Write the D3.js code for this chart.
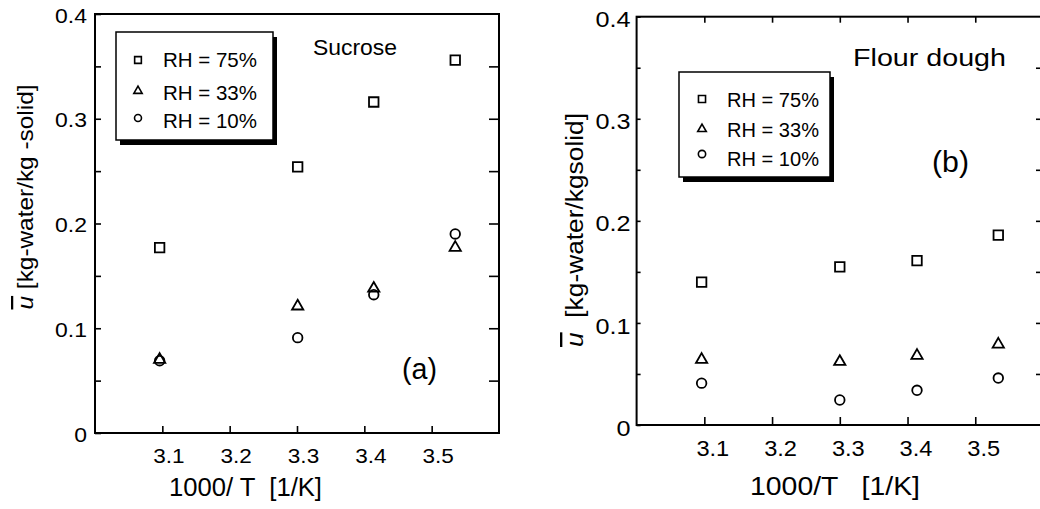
<!DOCTYPE html>
<html>
<head>
<meta charset="utf-8">
<script src="https://cdn.jsdelivr.net/npm/d3@7"></script>
<style>
  body { margin: 0; background: #fff; }
  svg { display: block; font-family: "Liberation Sans", Arial, sans-serif; }
</style>
</head>
<body>
<div id="chart"></div>
<script>
// data
var xTicks = [3.1, 3.2, 3.3, 3.4, 3.5];
var yTicks = [0, 0.1, 0.2, 0.3, 0.4];
var yAll = [0.05, 0.1, 0.15, 0.2, 0.25, 0.3, 0.35];
var yMinor = [0.05, 0.15, 0.25, 0.35];
var legendLabels = ["RH = 75%", "RH = 33%", "RH = 10%"];

var sucroseX = [3.096, 3.301, 3.414, 3.535];
var sucrose75 = [0.177, 0.254, 0.316, 0.356];
var sucrose33 = [0.070, 0.121, 0.138, 0.177];
var sucrose10 = [0.069, 0.091, 0.132, 0.190];

var doughX = [3.096, 3.300, 3.414, 3.534];
var dough75 = [0.140, 0.155, 0.161, 0.186];
var dough33 = [0.064, 0.062, 0.068, 0.079];
var dough10 = [0.041, 0.0245, 0.034, 0.046];

var shapes = [d3.symbolSquare, d3.symbolTriangle, d3.symbolCircle];

var svg = d3.select("#chart").append("svg")
    .attr("width", 1040)
    .attr("height", 509);

var fmt = function(d) { return d === 0 ? "0" : d3.format(".1f")(d); };

// the glyphs in the original are a bit wider than Arial
function widen(sel, k) {
  sel.each(function() {
    var w = this.getComputedTextLength();
    if (w > 0) d3.select(this).attr("textLength", w * k).attr("lengthAdjust", "spacingAndGlyphs");
  });
}

function styleAxis(g, size) {
  g.attr("font-family", null).attr("font-size", size);
  g.select(".domain").remove();
  g.selectAll("line").attr("stroke", "#000").attr("stroke-width", 1.6);
  g.selectAll("text").attr("fill", "#000");
}

function drawPanel(p) {
  var x = d3.scaleLinear().domain([3.0, 3.6]).range([p.left, p.right]);
  var y = d3.scaleLinear().domain([0, 0.4]).range([p.bottom, p.top]);

  // bottom axis
  var gb = svg.append("g")
      .attr("transform", "translate(0," + p.bottom + ")")
      .call(d3.axisBottom(x).tickValues(xTicks).tickSize(-p.tickB)
        .tickPadding(p.padB).tickFormat(d3.format(".1f")));
  styleAxis(gb, p.tickFont);
  gb.selectAll("text").attr("dx", p.dxB);
  widen(gb.selectAll("text"), p.kB);

  // left axis
  var gl = svg.append("g")
      .attr("transform", "translate(" + p.left + ",0)")
      .call(d3.axisLeft(y).tickValues(yTicks).tickSize(-p.tickL)
        .tickPadding(p.padL).tickFormat(fmt));
  styleAxis(gl, p.tickFont);
  gl.selectAll("text").attr("dy", p.dyL);
  widen(gl.selectAll("text"), p.kL);

  var glm = svg.append("g")
      .attr("transform", "translate(" + p.left + ",0)")
      .call(d3.axisLeft(y).tickValues(yMinor).tickSize(-p.tickL).tickFormat(""));
  styleAxis(glm, p.tickFont);

  // right axis
  var gr = svg.append("g")
      .attr("transform", "translate(" + p.right + ",0)")
      .call(d3.axisRight(y).tickValues(yAll).tickSize(-p.tickR).tickFormat(""));
  styleAxis(gr, p.tickFont);

  if (p.topTicks) {
    var gt = svg.append("g")
        .attr("transform", "translate(0," + p.top + ")")
        .call(d3.axisTop(x).tickValues(xTicks).tickSize(-6).tickFormat(""));
    styleAxis(gt, p.tickFont);
  }

  // frame
  svg.append("rect")
      .attr("x", p.left).attr("y", p.top)
      .attr("width", p.right - p.left).attr("height", p.bottom - p.top)
      .attr("fill", "none").attr("stroke", "#000").attr("stroke-width", 2);

  // points
  p.series.forEach(function(vals, i) {
    svg.append("g").selectAll("path")
      .data(vals)
      .join("path")
        .attr("transform", function(d, j) { return "translate(" + x(p.xs[j]) + "," + y(d) + ")"; })
        .attr("d", d3.symbol().type(shapes[i]).size(p.markSize[i]))
        .attr("fill", "none")
        .attr("stroke", "#000")
        .attr("stroke-width", 1.8);
  });

  // legend
  var L = p.legend;
  svg.append("rect")
      .attr("x", L.x + 4).attr("y", L.y + 5)
      .attr("width", L.w).attr("height", L.h).attr("fill", "#000");
  svg.append("rect")
      .attr("x", L.x).attr("y", L.y)
      .attr("width", L.w).attr("height", L.h)
      .attr("fill", "#fff").attr("stroke", "#000").attr("stroke-width", 1.5);
  legendLabels.forEach(function(lab, i) {
    svg.append("path")
      .attr("transform", "translate(" + L.mx + "," + L.my[i] + ")")
      .attr("d", d3.symbol().type(shapes[i]).size(L.markSize[i]))
      .attr("fill", "none").attr("stroke", "#000").attr("stroke-width", 1.6);
    svg.append("text")
      .attr("x", L.tx).attr("y", L.ty[i])
      .attr("font-size", L.font)
      .attr("textLength", L.tw).attr("lengthAdjust", "spacingAndGlyphs")
      .text(lab);
  });

  // titles
  svg.append("text")
      .attr("x", p.title.x).attr("y", p.title.y)
      .attr("font-size", p.title.font)
      .attr("textLength", p.title.w).attr("lengthAdjust", "spacingAndGlyphs")
      .text(p.title.text);
  svg.append("text")
      .attr("x", p.tag.x).attr("y", p.tag.y)
      .attr("font-size", p.tag.font)
      .attr("textLength", p.tag.w).attr("lengthAdjust", "spacingAndGlyphs")
      .text(p.tag.text);

  svg.append("text")
      .attr("x", p.xlab.x).attr("y", p.xlab.y)
      .attr("font-size", p.xlab.font)
      .attr("textLength", p.xlab.w).attr("lengthAdjust", "spacingAndGlyphs")
      .attr("xml:space", "preserve")
      .text(p.xlab.text);

  var yl = svg.append("text")
      .attr("transform", "translate(" + p.ylab.x + "," + p.ylab.y + ") rotate(-90)")
      .attr("text-anchor", "middle")
      .attr("font-size", p.ylab.font)
      .attr("textLength", p.ylab.w).attr("lengthAdjust", "spacingAndGlyphs")
      .attr("xml:space", "preserve");
  yl.append("tspan")
      .attr("font-style", "italic")
      .style("text-decoration", "overline")
      .text("u");
  yl.append("tspan").text(p.ylab.text);
}

drawPanel({
  left: 95, right: 499, top: 14, bottom: 433,
  tickFont: 20.5, tickB: 7, padB: 15.5, dxB: 6, kB: 1.1, tickL: 6, padL: 8, dyL: "0.4em", kL: 1.12, tickR: 10,
  topTicks: false,
  xs: sucroseX,
  series: [sucrose75, sucrose33, sucrose10],
  markSize: [90, 55, 72],
  legend: { x: 116, y: 32, w: 157, h: 108, mx: 138, my: [60, 91, 118], markSize: [45, 30, 38],
            tx: 163, ty: [67, 100, 128], font: 21, tw: 94 },
  title: { text: "Sucrose", x: 313, y: 55, font: 21.5, w: 84 },
  tag: { text: "(a)", x: 402, y: 379, font: 30, w: 35 },
  xlab: { text: "1000/ T  [1/K]", x: 169, y: 496, font: 25, w: 153 },
  ylab: { text: " [kg-water/kg -solid]", x: 33, y: 197, font: 22.5, w: 225 }
});

drawPanel({
  left: 636.6, right: 1043, top: 16.7, bottom: 425,
  tickFont: 22.5, tickB: 8, padB: 15, dxB: 8, kB: 1.05, tickL: 4, padL: 6, dyL: "0.45em", kL: 1.12, tickR: 7,
  topTicks: true,
  xs: doughX,
  series: [dough75, dough33, dough10],
  markSize: [90, 55, 72],
  legend: { x: 679, y: 72, w: 151, h: 105, mx: 702, my: [99, 129, 154], markSize: [50, 32, 42],
            tx: 727, ty: [106.5, 137, 166], font: 20, tw: 92 },
  title: { text: "Flour dough", x: 853, y: 66, font: 23, w: 153 },
  tag: { text: "(b)", x: 932, y: 172, font: 30, w: 37 },
  xlab: { text: "1000/T   [1/K]", x: 750, y: 495, font: 25.5, w: 170 },
  ylab: { text: "  [kg-water/kgsolid]", x: 583, y: 230, font: 23.5, w: 234 }
});
</script>
</body>
</html>
